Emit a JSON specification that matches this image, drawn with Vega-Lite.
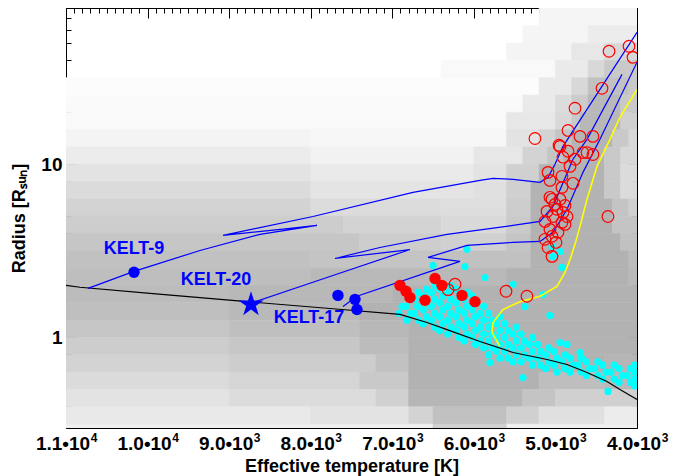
{
"$schema": "https://vega.github.io/schema/vega-lite/v6.json",
"width": 571, "height": 420,
"autosize": {"type": "none"},
"padding": {"left": 66, "top": 8, "right": 48, "bottom": 48},
"background": "white",
"config": {"view": {"stroke": null}, "font": "Liberation Sans",
 "axis": {"labelFont": "Liberation Sans", "labelFontWeight": "bold", "labelFontSize": 18, "labelColor": "black", "titleFont": "Liberation Sans", "titleFontWeight": "bold", "titleFontSize": 18, "titleColor": "black", "tickColor": "black", "domainColor": "black", "grid": false, "zindex": 2, "labelFlush": false, "labelOverlap": false}},
"resolve": {"axis": {"x": "independent", "y": "independent"}},
"datasets": {
"grid": [
{"t0":5200,"t1":4000,"r0":63.10,"r1":89.1,"d":0.6},
{"t0":5400,"t1":4600,"r0":50.12,"r1":63.10,"d":0.6},{"t0":4600,"t1":4000,"r0":50.12,"r1":63.10,"d":1.2},
{"t0":5600,"t1":4800,"r0":39.81,"r1":50.12,"d":0.7},{"t0":4800,"t1":4400,"r0":39.81,"r1":50.12,"d":1.5},{"t0":4400,"t1":4000,"r0":39.81,"r1":50.12,"d":2.5},
{"t0":6400,"t1":5000,"r0":31.62,"r1":39.81,"d":0.4},{"t0":5000,"t1":4600,"r0":31.62,"r1":39.81,"d":1.3},{"t0":4600,"t1":4400,"r0":31.62,"r1":39.81,"d":2.5},{"t0":4400,"t1":4000,"r0":31.62,"r1":39.81,"d":3.5},
{"t0":11000,"t1":5200,"r0":25.12,"r1":31.62,"d":0.2},{"t0":5200,"t1":4800,"r0":25.12,"r1":31.62,"d":1.3},{"t0":4800,"t1":4600,"r0":25.12,"r1":31.62,"d":2.5},{"t0":4600,"t1":4100,"r0":25.12,"r1":31.62,"d":4},{"t0":4100,"t1":4000,"r0":25.12,"r1":31.62,"d":3.5},
{"t0":11000,"t1":5400,"r0":19.95,"r1":25.12,"d":0.3},{"t0":5400,"t1":5000,"r0":19.95,"r1":25.12,"d":1.3},{"t0":5000,"t1":4800,"r0":19.95,"r1":25.12,"d":2.2},{"t0":4800,"t1":4600,"r0":19.95,"r1":25.12,"d":3.3},{"t0":4600,"t1":4200,"r0":19.95,"r1":25.12,"d":4.5},{"t0":4200,"t1":4000,"r0":19.95,"r1":25.12,"d":3.5},
{"t0":11000,"t1":5600,"r0":15.85,"r1":19.95,"d":0.4},{"t0":5600,"t1":5000,"r0":15.85,"r1":19.95,"d":1.5},{"t0":5000,"t1":4800,"r0":15.85,"r1":19.95,"d":2.5},{"t0":4800,"t1":4700,"r0":15.85,"r1":19.95,"d":3.5},{"t0":4700,"t1":4200,"r0":15.85,"r1":19.95,"d":4.6},{"t0":4200,"t1":4000,"r0":15.85,"r1":19.95,"d":3},
{"t0":11000,"t1":8000,"r0":12.59,"r1":15.85,"d":0.7},{"t0":8000,"t1":5600,"r0":12.59,"r1":15.85,"d":0.5},{"t0":5600,"t1":5200,"r0":12.59,"r1":15.85,"d":1.8},{"t0":5200,"t1":5000,"r0":12.59,"r1":15.85,"d":2.8},{"t0":5000,"t1":4800,"r0":12.59,"r1":15.85,"d":3.8},{"t0":4800,"t1":4300,"r0":12.59,"r1":15.85,"d":4.8},{"t0":4300,"t1":4100,"r0":12.59,"r1":15.85,"d":3.5},{"t0":4100,"t1":4000,"r0":12.59,"r1":15.85,"d":2.5},
{"t0":11000,"t1":8000,"r0":10,"r1":12.59,"d":1.2},{"t0":8000,"t1":6000,"r0":10,"r1":12.59,"d":0.8},{"t0":6000,"t1":5400,"r0":10,"r1":12.59,"d":1.5},{"t0":5400,"t1":5100,"r0":10,"r1":12.59,"d":2.8},{"t0":5100,"t1":4900,"r0":10,"r1":12.59,"d":3.8},{"t0":4900,"t1":4400,"r0":10,"r1":12.59,"d":4.8},{"t0":4400,"t1":4200,"r0":10,"r1":12.59,"d":3.5},{"t0":4200,"t1":4000,"r0":10,"r1":12.59,"d":2.5},
{"t0":11000,"t1":8000,"r0":7.943,"r1":10,"d":1.8},{"t0":8000,"t1":6000,"r0":7.943,"r1":10,"d":1.3},{"t0":6000,"t1":5600,"r0":7.943,"r1":10,"d":1.8},{"t0":5600,"t1":5200,"r0":7.943,"r1":10,"d":3},{"t0":5200,"t1":4400,"r0":7.943,"r1":10,"d":4.9},{"t0":4400,"t1":4200,"r0":7.943,"r1":10,"d":3.5},{"t0":4200,"t1":4000,"r0":7.943,"r1":10,"d":2.3},
{"t0":11000,"t1":8000,"r0":6.310,"r1":7.943,"d":2.3},{"t0":8000,"t1":6000,"r0":6.310,"r1":7.943,"d":1.7},{"t0":6000,"t1":5600,"r0":6.310,"r1":7.943,"d":2},{"t0":5600,"t1":5300,"r0":6.310,"r1":7.943,"d":3},{"t0":5300,"t1":4400,"r0":6.310,"r1":7.943,"d":4.9},{"t0":4400,"t1":4200,"r0":6.310,"r1":7.943,"d":3.5},{"t0":4200,"t1":4000,"r0":6.310,"r1":7.943,"d":2.3},
{"t0":11000,"t1":8000,"r0":5.012,"r1":6.310,"d":2.8},{"t0":8000,"t1":6400,"r0":5.012,"r1":6.310,"d":2.2},{"t0":6400,"t1":5600,"r0":5.012,"r1":6.310,"d":2.1},{"t0":5600,"t1":5300,"r0":5.012,"r1":6.310,"d":3.2},{"t0":5300,"t1":4300,"r0":5.012,"r1":6.310,"d":4.9},{"t0":4300,"t1":4100,"r0":5.012,"r1":6.310,"d":3.8},{"t0":4100,"t1":4000,"r0":5.012,"r1":6.310,"d":3},
{"t0":11000,"t1":7600,"r0":3.981,"r1":5.012,"d":3.2},{"t0":7600,"t1":6400,"r0":3.981,"r1":5.012,"d":2.8},{"t0":6400,"t1":5600,"r0":3.981,"r1":5.012,"d":2.4},{"t0":5600,"t1":5300,"r0":3.981,"r1":5.012,"d":3.4},{"t0":5300,"t1":4300,"r0":3.981,"r1":5.012,"d":5},{"t0":4300,"t1":4000,"r0":3.981,"r1":5.012,"d":3.8},
{"t0":11000,"t1":7400,"r0":3.162,"r1":3.981,"d":3.7},{"t0":7400,"t1":6400,"r0":3.162,"r1":3.981,"d":3.2},{"t0":6400,"t1":5600,"r0":3.162,"r1":3.981,"d":3.0},{"t0":5600,"t1":5300,"r0":3.162,"r1":3.981,"d":3.8},{"t0":5300,"t1":4200,"r0":3.162,"r1":3.981,"d":5},{"t0":4200,"t1":4000,"r0":3.162,"r1":3.981,"d":4},
{"t0":11000,"t1":8000,"r0":2.512,"r1":3.162,"d":4},{"t0":8000,"t1":6400,"r0":2.512,"r1":3.162,"d":3.8},{"t0":6400,"t1":5300,"r0":2.512,"r1":3.162,"d":4},{"t0":5300,"t1":4100,"r0":2.512,"r1":3.162,"d":5},{"t0":4100,"t1":4000,"r0":2.512,"r1":3.162,"d":4.3},
{"t0":11000,"t1":8000,"r0":1.995,"r1":2.512,"d":4.2},{"t0":8000,"t1":5600,"r0":1.995,"r1":2.512,"d":4.5},{"t0":5600,"t1":4100,"r0":1.995,"r1":2.512,"d":5},{"t0":4100,"t1":4000,"r0":1.995,"r1":2.512,"d":4.5},
{"t0":11000,"t1":9000,"r0":1.585,"r1":1.995,"d":4.3},{"t0":9000,"t1":7000,"r0":1.585,"r1":1.995,"d":4.6},{"t0":7000,"t1":4000,"r0":1.585,"r1":1.995,"d":5},
{"t0":11000,"t1":9000,"r0":1.259,"r1":1.585,"d":4.1},{"t0":9000,"t1":7400,"r0":1.259,"r1":1.585,"d":4.5},{"t0":7400,"t1":4000,"r0":1.259,"r1":1.585,"d":5},
{"t0":11000,"t1":9000,"r0":1,"r1":1.259,"d":3.7},{"t0":9000,"t1":7400,"r0":1,"r1":1.259,"d":4.1},{"t0":7400,"t1":6800,"r0":1,"r1":1.259,"d":4.6},{"t0":6800,"t1":4000,"r0":1,"r1":1.259,"d":5},
{"t0":11000,"t1":9000,"r0":0.794,"r1":1,"d":3.2},{"t0":9000,"t1":7400,"r0":0.794,"r1":1,"d":3.6},{"t0":7400,"t1":6800,"r0":0.794,"r1":1,"d":4.3},{"t0":6800,"t1":4000,"r0":0.794,"r1":1,"d":5},
{"t0":11000,"t1":9000,"r0":0.631,"r1":0.794,"d":2.8},{"t0":9000,"t1":7200,"r0":0.631,"r1":0.794,"d":3.2},{"t0":7200,"t1":6800,"r0":0.631,"r1":0.794,"d":4},{"t0":6800,"t1":4400,"r0":0.631,"r1":0.794,"d":5},{"t0":4400,"t1":4000,"r0":0.631,"r1":0.794,"d":4.8},
{"t0":11000,"t1":9000,"r0":0.501,"r1":0.631,"d":2.3},{"t0":9000,"t1":7400,"r0":0.501,"r1":0.631,"d":2.7},{"t0":7400,"t1":6800,"r0":0.501,"r1":0.631,"d":3.5},{"t0":6800,"t1":5200,"r0":0.501,"r1":0.631,"d":5},{"t0":5200,"t1":4400,"r0":0.501,"r1":0.631,"d":4.2},{"t0":4400,"t1":4000,"r0":0.501,"r1":0.631,"d":4.5},
{"t0":11000,"t1":9000,"r0":0.398,"r1":0.501,"d":1.8},{"t0":9000,"t1":7200,"r0":0.398,"r1":0.501,"d":2.2},{"t0":7200,"t1":6800,"r0":0.398,"r1":0.501,"d":3},{"t0":6800,"t1":5400,"r0":0.398,"r1":0.501,"d":4.7},{"t0":5400,"t1":5000,"r0":0.398,"r1":0.501,"d":3.8},{"t0":5000,"t1":4000,"r0":0.398,"r1":0.501,"d":3},
{"t0":11000,"t1":8000,"r0":0.316,"r1":0.398,"d":1.4},{"t0":8000,"t1":6800,"r0":0.316,"r1":0.398,"d":1.8},{"t0":6800,"t1":6500,"r0":0.316,"r1":0.398,"d":2.8},{"t0":6500,"t1":5600,"r0":0.316,"r1":0.398,"d":4},{"t0":5600,"t1":5200,"r0":0.316,"r1":0.398,"d":3},{"t0":5200,"t1":4400,"r0":0.316,"r1":0.398,"d":2},{"t0":4400,"t1":4000,"r0":0.316,"r1":0.398,"d":1.2},
{"t0":11000,"t1":6500,"r0":0.25,"r1":0.316,"d":1},{"t0":6500,"t1":5600,"r0":0.25,"r1":0.316,"d":3},{"t0":5600,"t1":4000,"r0":0.25,"r1":0.316,"d":1}
],
"cyan": [
{"t":6880,"r":1.514},{"t":6920,"r":1.380},
{"t":6780,"r":1.660},{"t":6830,"r":1.514},{"t":6770,"r":1.380},{"t":6820,"r":1.259},
{"t":6680,"r":1.820},{"t":6720,"r":1.660},{"t":6690,"r":1.514},{"t":6730,"r":1.380},{"t":6680,"r":1.259},
{"t":6580,"r":1.905},{"t":6620,"r":1.738},{"t":6580,"r":1.585},{"t":6620,"r":1.445},{"t":6580,"r":1.318},{"t":6620,"r":1.202},
{"t":6480,"r":1.995},{"t":6520,"r":1.820},{"t":6480,"r":1.660},{"t":6520,"r":1.514},{"t":6480,"r":1.380},{"t":6520,"r":1.259},{"t":6480,"r":1.148},
{"t":6420,"r":1.905},{"t":6380,"r":1.738},{"t":6420,"r":1.585},{"t":6380,"r":1.445},{"t":6420,"r":1.318},{"t":6380,"r":1.202},{"t":6420,"r":1.096},
{"t":6280,"r":1.995},{"t":6320,"r":1.820},{"t":6280,"r":1.660},{"t":6320,"r":1.514},{"t":6280,"r":1.380},{"t":6320,"r":1.259},{"t":6280,"r":1.148},{"t":6320,"r":1.047},
{"t":6220,"r":1.905},{"t":6180,"r":1.738},{"t":6220,"r":1.585},{"t":6180,"r":1.445},{"t":6220,"r":1.318},{"t":6180,"r":1.202},{"t":6220,"r":1.096},{"t":6180,"r":1.000},
{"t":6080,"r":1.820},{"t":6120,"r":1.660},{"t":6080,"r":1.514},{"t":6120,"r":1.380},{"t":6080,"r":1.259},{"t":6120,"r":1.148},{"t":6080,"r":1.047},{"t":6120,"r":0.955},
{"t":6020,"r":1.738},{"t":5980,"r":1.585},{"t":6020,"r":1.445},{"t":5980,"r":1.318},{"t":6020,"r":1.202},{"t":5980,"r":1.096},{"t":6020,"r":1.000},{"t":5980,"r":0.912},
{"t":5880,"r":1.514},{"t":5920,"r":1.380},{"t":5880,"r":1.259},{"t":5920,"r":1.148},{"t":5880,"r":1.047},{"t":5920,"r":0.955},{"t":5880,"r":0.871},
{"t":5820,"r":1.380},{"t":5780,"r":1.259},{"t":5820,"r":1.148},{"t":5780,"r":1.047},{"t":5820,"r":0.955},{"t":5780,"r":0.871},{"t":5820,"r":0.794},
{"t":5680,"r":1.318},{"t":5720,"r":1.202},{"t":5680,"r":1.096},{"t":5720,"r":1.000},{"t":5680,"r":0.912},{"t":5720,"r":0.832},{"t":5680,"r":0.759},
{"t":5620,"r":1.202},{"t":5580,"r":1.096},{"t":5620,"r":1.000},{"t":5580,"r":0.912},{"t":5620,"r":0.832},{"t":5580,"r":0.759},
{"t":5480,"r":1.148},{"t":5520,"r":1.047},{"t":5480,"r":0.955},{"t":5520,"r":0.871},{"t":5480,"r":0.794},{"t":5520,"r":0.724},
{"t":5420,"r":1.047},{"t":5380,"r":0.955},{"t":5420,"r":0.871},{"t":5380,"r":0.794},{"t":5420,"r":0.724},
{"t":5280,"r":1.000},{"t":5320,"r":0.912},{"t":5280,"r":0.832},{"t":5320,"r":0.759},{"t":5280,"r":0.692},
{"t":5220,"r":0.912},{"t":5180,"r":0.832},{"t":5220,"r":0.759},{"t":5180,"r":0.692},
{"t":5080,"r":0.871},{"t":5120,"r":0.794},{"t":5080,"r":0.724},{"t":5120,"r":0.661},
{"t":5020,"r":0.832},{"t":4980,"r":0.759},{"t":5020,"r":0.692},{"t":4980,"r":0.631},
{"t":4880,"r":0.794},{"t":4920,"r":0.724},{"t":4880,"r":0.661},
{"t":4820,"r":0.759},{"t":4780,"r":0.692},{"t":4820,"r":0.631},
{"t":4680,"r":0.759},{"t":4720,"r":0.692},{"t":4680,"r":0.631},
{"t":4620,"r":0.724},{"t":4580,"r":0.661},{"t":4620,"r":0.603},
{"t":4480,"r":0.724},{"t":4520,"r":0.661},{"t":4480,"r":0.603},
{"t":4420,"r":0.692},{"t":4380,"r":0.631},{"t":4420,"r":0.575},
{"t":4280,"r":0.692},{"t":4320,"r":0.631},{"t":4280,"r":0.575},
{"t":4220,"r":0.661},{"t":4180,"r":0.603},{"t":4220,"r":0.550},
{"t":4080,"r":0.661},{"t":4120,"r":0.603},{"t":4080,"r":0.550},
{"t":4030,"r":0.692},{"t":4030,"r":0.631},{"t":4030,"r":0.575},{"t":4030,"r":0.525},
{"t":6501,"r":2.61},{"t":6109,"r":2.57},{"t":5864,"r":2.22},{"t":5520,"r":2.03},{"t":5152,"r":1.77},{"t":5067,"r":1.34},{"t":4920,"r":2.54},{"t":5042,"r":3.36},{"t":4944,"r":3.14},{"t":5030,"r":2.94},{"t":5373,"r":1.51},{"t":5398,"r":0.587},{"t":4356,"r":0.488},{"t":5802,"r":0.717},{"t":6084,"r":3.23},{"t":4699,"r":0.819},{"t":4858,"r":0.912},{"t":4944,"r":0.935}
],
"zams": [
{"i":1,"t":11000,"r":2.00},{"i":2,"t":10828,"r":1.95},{"i":3,"t":9970,"r":1.80},{"i":4,"t":8781,"r":1.61},{"i":5,"t":7764,"r":1.47},{"i":6,"t":6906,"r":1.36},{"i":7,"t":6574,"r":1.22},{"i":8,"t":6329,"r":1.11},{"i":9,"t":5925,"r":0.948},{"i":10,"t":5520,"r":0.819},{"i":11,"t":5103,"r":0.746},{"i":12,"t":4858,"r":0.698},{"i":13,"t":4613,"r":0.628},{"i":14,"t":4368,"r":0.557},{"i":15,"t":4209,"r":0.500},{"i":16,"t":4000,"r":0.438}
],
"yellow": [
{"i":1,"t":5680,"r":0.887},{"i":2,"t":5778,"r":1.07},{"i":3,"t":5765,"r":1.22},{"i":4,"t":5643,"r":1.45},{"i":5,"t":5434,"r":1.61},{"i":6,"t":5189,"r":1.73},{"i":7,"t":4981,"r":1.97},{"i":8,"t":4883,"r":2.38},{"i":9,"t":4821,"r":2.82},{"i":10,"t":4760,"r":3.45},{"i":11,"t":4699,"r":4.38},{"i":12,"t":4613,"r":6.28},{"i":13,"t":4490,"r":9.73},{"i":14,"t":4331,"r":13.95},{"i":15,"t":4209,"r":18.7},{"i":16,"t":4000,"r":27.1}
],
"tracks": [
{"k":"A","i":1,"t":10730,"r":1.92},{"k":"A","i":2,"t":10166,"r":2.41},{"k":"A","i":3,"t":9357,"r":3.18},{"k":"A","i":4,"t":8622,"r":3.94},{"k":"A","i":5,"t":7923,"r":4.44},{"k":"A","i":6,"t":8254,"r":4.27},{"k":"A","i":7,"t":9075,"r":3.89},{"k":"A","i":8,"t":7972,"r":5.00},{"k":"A","i":9,"t":6746,"r":6.89},{"k":"A","i":10,"t":5925,"r":8.08},{"k":"A","i":11,"t":5765,"r":8.30},{"k":"A","i":12,"t":5520,"r":8.19},{"k":"A","i":13,"t":5189,"r":7.87},{"k":"A","i":14,"t":5091,"r":8.41},{"k":"A","i":15,"t":5005,"r":10.0},{"k":"A","i":16,"t":4907,"r":12.7},{"k":"A","i":17,"t":4454,"r":27.1},{"k":"A","i":18,"t":4000,"r":57.9},
{"k":"B","i":1,"t":8744,"r":1.57},{"k":"B","i":2,"t":7764,"r":2.25},{"k":"B","i":3,"t":6783,"r":3.22},{"k":"B","i":4,"t":7702,"r":2.86},{"k":"B","i":5,"t":7151,"r":3.31},{"k":"B","i":6,"t":6329,"r":3.94},{"k":"B","i":7,"t":5520,"r":4.44},{"k":"B","i":8,"t":5189,"r":4.68},{"k":"B","i":9,"t":5030,"r":5.72},{"k":"B","i":10,"t":4785,"r":10.7},{"k":"B","i":11,"t":4613,"r":13.95},{"k":"B","i":12,"t":4184,"r":33.1},
{"k":"C","i":1,"t":7604,"r":1.51},{"k":"C","i":2,"t":7433,"r":1.73},{"k":"C","i":3,"t":6170,"r":2.75},{"k":"C","i":4,"t":6562,"r":2.90},{"k":"C","i":5,"t":6084,"r":3.40},{"k":"C","i":6,"t":5520,"r":3.54},{"k":"C","i":7,"t":5189,"r":3.59},{"k":"C","i":8,"t":5030,"r":4.05},{"k":"C","i":9,"t":4858,"r":5.50},{"k":"C","i":10,"t":4662,"r":8.99},{"k":"C","i":11,"t":4454,"r":13.95},{"k":"C","i":12,"t":4000,"r":38.9}
],
"redfilled": [
{"t":6906,"r":2.00},{"t":6832,"r":1.85},{"t":6783,"r":1.70},{"t":6599,"r":1.64},{"t":6476,"r":2.19},{"t":6391,"r":2.00},{"t":6145,"r":1.75},{"t":5986,"r":1.61}
],
"redopen": [
{"t":4343,"r":45.0},{"t":4098,"r":48.1},{"t":4049,"r":41.5},{"t":4429,"r":27.5},{"t":4760,"r":21.1},{"t":5251,"r":14.1},{"t":4846,"r":15.7},{"t":4699,"r":14.5},{"t":4540,"r":14.5},{"t":4956,"r":12.9},{"t":4846,"r":11.9},{"t":4662,"r":11.7},{"t":4540,"r":11.4},{"t":4907,"r":11.0},{"t":4760,"r":10.7},{"t":4821,"r":9.73},{"t":5091,"r":8.99},{"t":4920,"r":8.53},{"t":5067,"r":8.08},{"t":4920,"r":7.36},{"t":4785,"r":7.77},{"t":5042,"r":6.28},{"t":4981,"r":5.50},{"t":4907,"r":5.28},{"t":5030,"r":5.00},{"t":4920,"r":4.62},{"t":5067,"r":4.21},{"t":4969,"r":4.05},{"t":4356,"r":5.00},{"t":5067,"r":6.45},{"t":4858,"r":5.00},{"t":5128,"r":3.69},{"t":5042,"r":3.84},{"t":5042,"r":2.94},{"t":5091,"r":3.31},{"t":6231,"r":2.03},{"t":6317,"r":1.89},{"t":5606,"r":1.85},{"t":5349,"r":1.73},{"t":5005,"r":5.87},{"t":4944,"r":6.28},{"t":5103,"r":5.35},{"t":4883,"r":5.79},{"t":5128,"r":4.68},{"t":4883,"r":4.50},{"t":4993,"r":3.54},{"t":4613,"r":11.7},{"t":4944,"r":12.7}
],
"bluepts": [
{"t":10166,"r":2.38},{"t":7666,"r":1.75},{"t":7457,"r":1.66},{"t":7433,"r":1.45}
],
"starpt": [{"t":8732,"r":1.55}],
"names": [
{"t":10166,"r":3.23,"label":"KELT-9"},{"t":9161,"r":2.14,"label":"KELT-20"},{"t":8021,"r":1.288,"label":"KELT-17"}
]
},
"layer": [
{"data": {"name": "grid"}, "mark": {"type": "rect", "clip": true, "strokeWidth": 0.6},
 "encoding": {
  "x": {"field": "t0", "type": "quantitative", "scale": {"domain": [4000, 11000], "reverse": true, "nice": false, "zero": false},
        "axis": {"orient": "bottom", "values": [4000,5000,6000,7000,8000,9000,10000,11000], "tickSize": -10, "domain": true, "labelPadding": 16, "labelFontSize": 19, "labelOffset": -3.5, "labelExpr": "datum.value >= 10000 ? format(datum.value/10000,'.1f') + '•10' : format(datum.value/1000,'.1f') + '•10'", "title": "Effective temperature [K]", "titlePadding": 4}},
  "x2": {"field": "t1"},
  "y": {"field": "r0", "type": "quantitative", "scale": {"type": "log", "domain": [0.3, 80], "nice": false},
        "axis": {"orient": "left", "values": [1,10], "tickSize": -10, "domain": true, "labelPadding": 14, "labelFontSize": 19, "labelExpr": "format(datum.value,'d')", "title": "Radius [Rₛᵤₙ]", "titlePadding": 12}},
  "y2": {"field": "r1"},
  "color": {"field": "d", "type": "quantitative", "scale": {"domain": [0, 5], "range": ["#ffffff", "#b2b2b2"]}, "legend": null},
  "stroke": {"field": "d", "type": "quantitative", "scale": {"domain": [0, 5], "range": ["#ffffff", "#b2b2b2"]}, "legend": null}
 }},
{"data": {"name": "cyan"}, "mark": {"type": "circle", "size": 52, "opacity": 1, "color": "#00ffff", "clip": true},
 "encoding": {"x": {"field": "t", "type": "quantitative", "axis": null}, "y": {"field": "r", "type": "quantitative", "axis": null}}},
{"data": {"name": "zams"}, "mark": {"type": "line", "color": "black", "strokeWidth": 1.2, "clip": true},
 "encoding": {"x": {"field": "t", "type": "quantitative", "axis": null}, "y": {"field": "r", "type": "quantitative", "axis": null}, "order": {"field": "i", "type": "quantitative"}}},
{"data": {"name": "yellow"}, "mark": {"type": "line", "color": "#ffff00", "strokeWidth": 1.6, "clip": true},
 "encoding": {"x": {"field": "t", "type": "quantitative", "axis": null}, "y": {"field": "r", "type": "quantitative", "axis": null}, "order": {"field": "i", "type": "quantitative"}}},
{"data": {"name": "tracks"}, "mark": {"type": "line", "color": "#0000ff", "strokeWidth": 1.2, "clip": true},
 "encoding": {"x": {"field": "t", "type": "quantitative", "axis": null}, "y": {"field": "r", "type": "quantitative", "axis": null}, "detail": {"field": "k", "type": "nominal"}, "order": {"field": "i", "type": "quantitative"}}},
{"data": {"name": "redfilled"}, "mark": {"type": "circle", "size": 130, "opacity": 1, "color": "#ff0000", "clip": true},
 "encoding": {"x": {"field": "t", "type": "quantitative", "axis": null}, "y": {"field": "r", "type": "quantitative", "axis": null}}},
{"data": {"name": "redopen"}, "mark": {"type": "point", "shape": "circle", "filled": false, "size": 135, "opacity": 1, "color": "#ff0000", "strokeWidth": 1.2, "clip": true},
 "encoding": {"x": {"field": "t", "type": "quantitative", "axis": null}, "y": {"field": "r", "type": "quantitative", "axis": null}}},
{"data": {"name": "bluepts"}, "mark": {"type": "circle", "size": 130, "opacity": 1, "color": "#0000ff", "clip": true},
 "encoding": {"x": {"field": "t", "type": "quantitative", "axis": null}, "y": {"field": "r", "type": "quantitative", "axis": null}}},
{"data": {"name": "starpt"}, "mark": {"type": "point", "shape": "M0,-1L0.2245,-0.309L0.951,-0.309L0.363,0.118L0.588,0.809L0,0.382L-0.588,0.809L-0.363,0.118L-0.951,-0.309L-0.2245,-0.309Z", "filled": true, "size": 700, "opacity": 1, "color": "#0000ff"},
 "encoding": {"x": {"field": "t", "type": "quantitative", "axis": null}, "y": {"field": "r", "type": "quantitative", "axis": null}}},
{"data": {"name": "names"}, "mark": {"type": "text", "font": "Liberation Sans", "fontWeight": "bold", "fontSize": 18, "color": "#0000ff", "align": "center", "baseline": "middle"},
 "encoding": {"x": {"field": "t", "type": "quantitative", "axis": null}, "y": {"field": "r", "type": "quantitative", "axis": null}, "text": {"field": "label", "type": "nominal"}}},
{"data": {"name": "starpt"}, "mark": {"type": "point", "opacity": 0},
 "encoding": {
  "x": {"field": "t", "type": "quantitative", "axis": {"orient": "bottom", "values": [4100,4200,4300,4400,4500,4600,4700,4800,4900,5100,5200,5300,5400,5500,5600,5700,5800,5900,6100,6200,6300,6400,6500,6600,6700,6800,6900,7100,7200,7300,7400,7500,7600,7700,7800,7900,8100,8200,8300,8400,8500,8600,8700,8800,8900,9100,9200,9300,9400,9500,9600,9700,9800,9900,10100,10200,10300,10400,10500,10600,10700,10800,10900], "tickSize": -5, "domain": false, "labels": false, "title": null}},
  "y": {"field": "r", "type": "quantitative", "axis": {"orient": "left", "values": [0.4,0.5,0.6,0.7,0.8,0.9,2,3,4,5,6,7,8,9,20,30,40,50,60,70,80], "tickSize": -5, "domain": false, "labels": false, "title": null}}
 }},
{"data": {"name": "starpt"}, "mark": {"type": "point", "opacity": 0},
 "encoding": {
  "x": {"field": "t", "type": "quantitative", "axis": {"orient": "top", "values": [4000,5000,6000,7000,8000,9000,10000,11000], "tickSize": -10, "domain": true, "labels": false, "title": null}},
  "y": {"field": "r", "type": "quantitative", "axis": {"orient": "right", "values": [1,10], "tickSize": -10, "domain": true, "labels": false, "title": null}}
 }},
{"data": {"name": "starpt"}, "mark": {"type": "point", "opacity": 0},
 "encoding": {
  "x": {"field": "t", "type": "quantitative", "axis": {"orient": "top", "values": [4100,4200,4300,4400,4500,4600,4700,4800,4900,5100,5200,5300,5400,5500,5600,5700,5800,5900,6100,6200,6300,6400,6500,6600,6700,6800,6900,7100,7200,7300,7400,7500,7600,7700,7800,7900,8100,8200,8300,8400,8500,8600,8700,8800,8900,9100,9200,9300,9400,9500,9600,9700,9800,9900,10100,10200,10300,10400,10500,10600,10700,10800,10900], "tickSize": -5, "domain": false, "labels": false, "title": null}},
  "y": {"field": "r", "type": "quantitative", "axis": {"orient": "right", "values": [0.4,0.5,0.6,0.7,0.8,0.9,2,3,4,5,6,7,8,9,20,30,40,50,60,70,80], "tickSize": -5, "domain": false, "labels": false, "title": null}}
 }},
{"data": {"name": "starpt"}, "mark": {"type": "point", "opacity": 0},
 "encoding": {
  "x": {"field": "t", "type": "quantitative", "axis": {"orient": "bottom", "values": [4000,5000,6000,7000,8000,9000,10000,11000], "ticks": false, "tickSize": 0, "domain": false, "labelPadding": 4, "labelFontSize": 12, "labelOffset": 27.5, "labelExpr": "datum.value >= 10000 ? '4' : '3'", "title": null}},
  "y": {"field": "r", "type": "quantitative", "axis": null}
 }}
]
}
